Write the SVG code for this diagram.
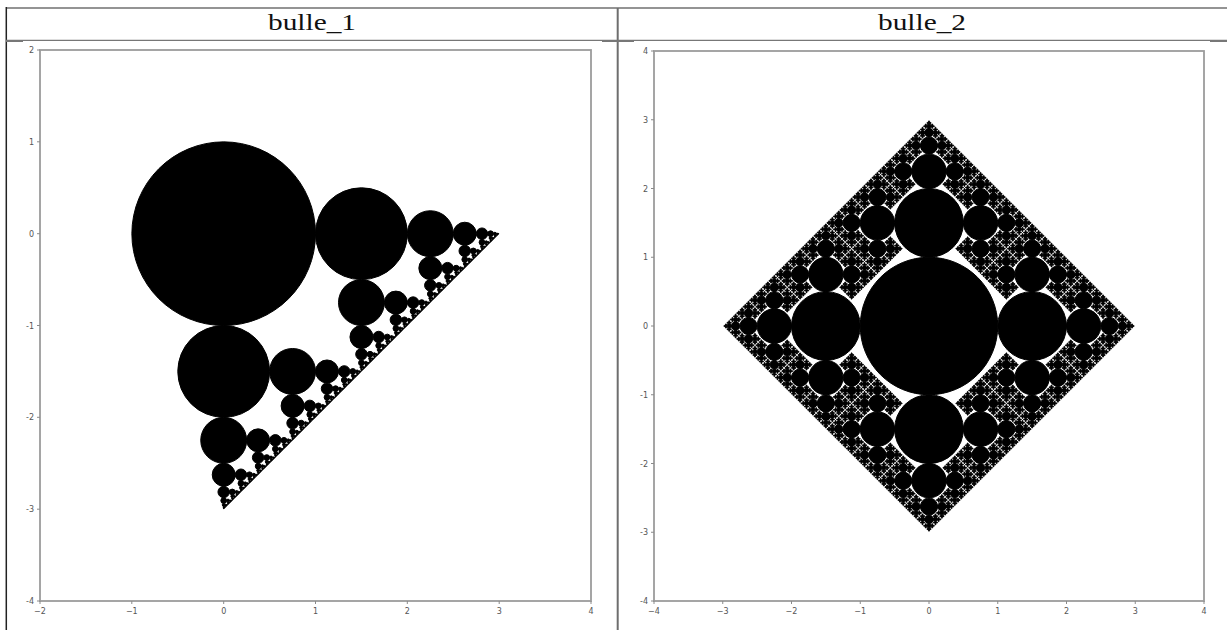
<svg xmlns="http://www.w3.org/2000/svg" xmlns:xlink="http://www.w3.org/1999/xlink" width="1227" height="630" viewBox="0 0 1227 630">
<style>
.title{font-family:"Liberation Serif","DejaVu Serif",serif;font-size:24px;fill:#111;text-anchor:middle}
.tl{font-family:"DejaVu Sans","Liberation Sans",sans-serif;font-size:8px;fill:#555}
.tx{text-anchor:middle}
.ty{text-anchor:end}
.spine{fill:none;stroke:#9c9c9c;stroke-width:1.8}
.tick{stroke:#8a8a8a;stroke-width:1}
.rule{stroke:#707070;stroke-width:1.5}
circle{vector-effect:non-scaling-stroke}
.frac{fill:#000;stroke:#000;stroke-width:1}
</style>
<defs>
<!-- bulle_1 fractal: each disc spawns a right and a down child (half radius, 1.5r away) -->
<g id="a0"><circle r="1"/></g>
<g id="a1"><circle r="1"/><use href="#a0" transform="translate(1.5,0) scale(.5)"/><use href="#a0" transform="translate(0,1.5) scale(.5)"/></g>
<g id="a2"><circle r="1"/><use href="#a1" transform="translate(1.5,0) scale(.5)"/><use href="#a1" transform="translate(0,1.5) scale(.5)"/></g>
<g id="a3"><circle r="1"/><use href="#a2" transform="translate(1.5,0) scale(.5)"/><use href="#a2" transform="translate(0,1.5) scale(.5)"/></g>
<g id="a4"><circle r="1"/><use href="#a3" transform="translate(1.5,0) scale(.5)"/><use href="#a3" transform="translate(0,1.5) scale(.5)"/></g>
<g id="a5"><circle r="1"/><use href="#a4" transform="translate(1.5,0) scale(.5)"/><use href="#a4" transform="translate(0,1.5) scale(.5)"/></g>
<g id="a6"><circle r="1"/><use href="#a5" transform="translate(1.5,0) scale(.5)"/><use href="#a5" transform="translate(0,1.5) scale(.5)"/></g>
<g id="a7"><circle r="1"/><use href="#a6" transform="translate(1.5,0) scale(.5)"/><use href="#a6" transform="translate(0,1.5) scale(.5)"/></g>
<g id="a8"><circle r="1"/><use href="#a7" transform="translate(1.5,0) scale(.5)"/><use href="#a7" transform="translate(0,1.5) scale(.5)"/></g>
<g id="a9"><circle r="1"/><use href="#a8" transform="translate(1.5,0) scale(.5)"/><use href="#a8" transform="translate(0,1.5) scale(.5)"/></g>

<!-- bulle_2 fractal: each disc spawns 3 children (all directions but back to parent) -->
<g id="U0"><circle r="1"/></g><g id="D0"><circle r="1"/></g><g id="L0"><circle r="1"/></g><g id="R0"><circle r="1"/></g>
<g id="U1"><circle r="1"/><use href="#U0" transform="translate(0,-1.5) scale(.5)"/><use href="#L0" transform="translate(-1.5,0) scale(.5)"/><use href="#R0" transform="translate(1.5,0) scale(.5)"/></g>
<g id="D1"><circle r="1"/><use href="#D0" transform="translate(0,1.5) scale(.5)"/><use href="#L0" transform="translate(-1.5,0) scale(.5)"/><use href="#R0" transform="translate(1.5,0) scale(.5)"/></g>
<g id="L1"><circle r="1"/><use href="#L0" transform="translate(-1.5,0) scale(.5)"/><use href="#U0" transform="translate(0,-1.5) scale(.5)"/><use href="#D0" transform="translate(0,1.5) scale(.5)"/></g>
<g id="R1"><circle r="1"/><use href="#R0" transform="translate(1.5,0) scale(.5)"/><use href="#U0" transform="translate(0,-1.5) scale(.5)"/><use href="#D0" transform="translate(0,1.5) scale(.5)"/></g>
<g id="U2"><circle r="1"/><use href="#U1" transform="translate(0,-1.5) scale(.5)"/><use href="#L1" transform="translate(-1.5,0) scale(.5)"/><use href="#R1" transform="translate(1.5,0) scale(.5)"/></g>
<g id="D2"><circle r="1"/><use href="#D1" transform="translate(0,1.5) scale(.5)"/><use href="#L1" transform="translate(-1.5,0) scale(.5)"/><use href="#R1" transform="translate(1.5,0) scale(.5)"/></g>
<g id="L2"><circle r="1"/><use href="#L1" transform="translate(-1.5,0) scale(.5)"/><use href="#U1" transform="translate(0,-1.5) scale(.5)"/><use href="#D1" transform="translate(0,1.5) scale(.5)"/></g>
<g id="R2"><circle r="1"/><use href="#R1" transform="translate(1.5,0) scale(.5)"/><use href="#U1" transform="translate(0,-1.5) scale(.5)"/><use href="#D1" transform="translate(0,1.5) scale(.5)"/></g>
<g id="U3"><circle r="1"/><use href="#U2" transform="translate(0,-1.5) scale(.5)"/><use href="#L2" transform="translate(-1.5,0) scale(.5)"/><use href="#R2" transform="translate(1.5,0) scale(.5)"/></g>
<g id="D3"><circle r="1"/><use href="#D2" transform="translate(0,1.5) scale(.5)"/><use href="#L2" transform="translate(-1.5,0) scale(.5)"/><use href="#R2" transform="translate(1.5,0) scale(.5)"/></g>
<g id="L3"><circle r="1"/><use href="#L2" transform="translate(-1.5,0) scale(.5)"/><use href="#U2" transform="translate(0,-1.5) scale(.5)"/><use href="#D2" transform="translate(0,1.5) scale(.5)"/></g>
<g id="R3"><circle r="1"/><use href="#R2" transform="translate(1.5,0) scale(.5)"/><use href="#U2" transform="translate(0,-1.5) scale(.5)"/><use href="#D2" transform="translate(0,1.5) scale(.5)"/></g>
<g id="U4"><circle r="1"/><use href="#U3" transform="translate(0,-1.5) scale(.5)"/><use href="#L3" transform="translate(-1.5,0) scale(.5)"/><use href="#R3" transform="translate(1.5,0) scale(.5)"/></g>
<g id="D4"><circle r="1"/><use href="#D3" transform="translate(0,1.5) scale(.5)"/><use href="#L3" transform="translate(-1.5,0) scale(.5)"/><use href="#R3" transform="translate(1.5,0) scale(.5)"/></g>
<g id="L4"><circle r="1"/><use href="#L3" transform="translate(-1.5,0) scale(.5)"/><use href="#U3" transform="translate(0,-1.5) scale(.5)"/><use href="#D3" transform="translate(0,1.5) scale(.5)"/></g>
<g id="R4"><circle r="1"/><use href="#R3" transform="translate(1.5,0) scale(.5)"/><use href="#U3" transform="translate(0,-1.5) scale(.5)"/><use href="#D3" transform="translate(0,1.5) scale(.5)"/></g>
<g id="U5"><circle r="1"/><use href="#U4" transform="translate(0,-1.5) scale(.5)"/><use href="#L4" transform="translate(-1.5,0) scale(.5)"/><use href="#R4" transform="translate(1.5,0) scale(.5)"/></g>
<g id="D5"><circle r="1"/><use href="#D4" transform="translate(0,1.5) scale(.5)"/><use href="#L4" transform="translate(-1.5,0) scale(.5)"/><use href="#R4" transform="translate(1.5,0) scale(.5)"/></g>
<g id="L5"><circle r="1"/><use href="#L4" transform="translate(-1.5,0) scale(.5)"/><use href="#U4" transform="translate(0,-1.5) scale(.5)"/><use href="#D4" transform="translate(0,1.5) scale(.5)"/></g>
<g id="R5"><circle r="1"/><use href="#R4" transform="translate(1.5,0) scale(.5)"/><use href="#U4" transform="translate(0,-1.5) scale(.5)"/><use href="#D4" transform="translate(0,1.5) scale(.5)"/></g>
<g id="U6"><circle r="1"/><use href="#U5" transform="translate(0,-1.5) scale(.5)"/><use href="#L5" transform="translate(-1.5,0) scale(.5)"/><use href="#R5" transform="translate(1.5,0) scale(.5)"/></g>
<g id="D6"><circle r="1"/><use href="#D5" transform="translate(0,1.5) scale(.5)"/><use href="#L5" transform="translate(-1.5,0) scale(.5)"/><use href="#R5" transform="translate(1.5,0) scale(.5)"/></g>
<g id="L6"><circle r="1"/><use href="#L5" transform="translate(-1.5,0) scale(.5)"/><use href="#U5" transform="translate(0,-1.5) scale(.5)"/><use href="#D5" transform="translate(0,1.5) scale(.5)"/></g>
<g id="R6"><circle r="1"/><use href="#R5" transform="translate(1.5,0) scale(.5)"/><use href="#U5" transform="translate(0,-1.5) scale(.5)"/><use href="#D5" transform="translate(0,1.5) scale(.5)"/></g>
</defs>

<rect width="1227" height="630" fill="#fff"/>

<g id="table">
<line class="rule" x1="6" y1="8" x2="1227" y2="8"/>
<line x1="6.3" y1="7" x2="6.3" y2="630" stroke="#222" stroke-width="1.5"/>
<line x1="617.7" y1="8" x2="617.7" y2="630" stroke="#6e6e6e" stroke-width="2"/>
<line x1="6" y1="40.3" x2="1227" y2="40.3" stroke="#777" stroke-width="1.2"/>
<line x1="6" y1="41" x2="23" y2="41" stroke="#777" stroke-width="2"/>
<line x1="602" y1="41" x2="634" y2="41" stroke="#777" stroke-width="2"/>
<line x1="1210" y1="41" x2="1227" y2="41" stroke="#777" stroke-width="2"/>
</g>

<g id="header-1"><text class="title" x="312" y="30" textLength="88" lengthAdjust="spacingAndGlyphs">bulle_1</text></g>
<g id="header-2"><text class="title" x="922" y="30" textLength="88" lengthAdjust="spacingAndGlyphs">bulle_2</text></g>

<!-- Plot 1 -->
<g id="plot-1">
<g id="fractal-1" class="frac" transform="translate(223.7,233.7) scale(91.83)">
<use href="#a9"/>
</g>
<rect class="spine" x="40" y="50" width="551" height="551"/>
<g class="tick">
<line x1="37" y1="50" x2="40" y2="50"/><line x1="37" y1="141.8" x2="40" y2="141.8"/><line x1="37" y1="233.7" x2="40" y2="233.7"/><line x1="37" y1="325.5" x2="40" y2="325.5"/><line x1="37" y1="417.3" x2="40" y2="417.3"/><line x1="37" y1="509.2" x2="40" y2="509.2"/><line x1="37" y1="601" x2="40" y2="601"/>
<line x1="40" y1="601" x2="40" y2="604"/><line x1="131.8" y1="601" x2="131.8" y2="604"/><line x1="223.7" y1="601" x2="223.7" y2="604"/><line x1="315.5" y1="601" x2="315.5" y2="604"/><line x1="407.3" y1="601" x2="407.3" y2="604"/><line x1="499.2" y1="601" x2="499.2" y2="604"/><line x1="591" y1="601" x2="591" y2="604"/>
</g>
<g class="tl ty">
<text x="34" y="53">2</text><text x="34" y="144.8">1</text><text x="34" y="236.7">0</text><text x="34" y="328.5">-1</text><text x="34" y="420.3">-2</text><text x="34" y="512.2">-3</text><text x="34" y="604">-4</text>
</g>
<g class="tl tx">
<text x="40" y="614">−2</text><text x="131.8" y="614">−1</text><text x="223.7" y="614">0</text><text x="315.5" y="614">1</text><text x="407.3" y="614">2</text><text x="499.2" y="614">3</text><text x="591" y="614">4</text>
</g>
</g>

<!-- Plot 2 -->
<g id="plot-2">
<g id="fractal-2" class="frac" transform="translate(929,326) scale(68.75)">
<circle r="1"/>
<use href="#U6" transform="translate(0,-1.5) scale(.5)"/>
<use href="#D6" transform="translate(0,1.5) scale(.5)"/>
<use href="#L6" transform="translate(-1.5,0) scale(.5)"/>
<use href="#R6" transform="translate(1.5,0) scale(.5)"/>
</g>
<rect class="spine" x="654" y="51" width="550" height="550"/>
<g class="tick">
<line x1="651" y1="51" x2="654" y2="51"/><line x1="651" y1="119.75" x2="654" y2="119.75"/><line x1="651" y1="188.5" x2="654" y2="188.5"/><line x1="651" y1="257.25" x2="654" y2="257.25"/><line x1="651" y1="326" x2="654" y2="326"/><line x1="651" y1="394.75" x2="654" y2="394.75"/><line x1="651" y1="463.5" x2="654" y2="463.5"/><line x1="651" y1="532.25" x2="654" y2="532.25"/><line x1="651" y1="601" x2="654" y2="601"/>
<line x1="654" y1="601" x2="654" y2="604"/><line x1="722.75" y1="601" x2="722.75" y2="604"/><line x1="791.5" y1="601" x2="791.5" y2="604"/><line x1="860.25" y1="601" x2="860.25" y2="604"/><line x1="929" y1="601" x2="929" y2="604"/><line x1="997.75" y1="601" x2="997.75" y2="604"/><line x1="1066.5" y1="601" x2="1066.5" y2="604"/><line x1="1135.25" y1="601" x2="1135.25" y2="604"/><line x1="1204" y1="601" x2="1204" y2="604"/>
</g>
<g class="tl ty">
<text x="648" y="54">4</text><text x="648" y="122.75">3</text><text x="648" y="191.5">2</text><text x="648" y="260.25">1</text><text x="648" y="329">0</text><text x="648" y="397.75">-1</text><text x="648" y="466.5">-2</text><text x="648" y="535.25">-3</text><text x="648" y="604">-4</text>
</g>
<g class="tl tx">
<text x="654" y="614">−4</text><text x="722.75" y="614">−3</text><text x="791.5" y="614">−2</text><text x="860.25" y="614">−1</text><text x="929" y="614">0</text><text x="997.75" y="614">1</text><text x="1066.5" y="614">2</text><text x="1135.25" y="614">3</text><text x="1204" y="614">4</text>
</g>
</g>
</svg>
